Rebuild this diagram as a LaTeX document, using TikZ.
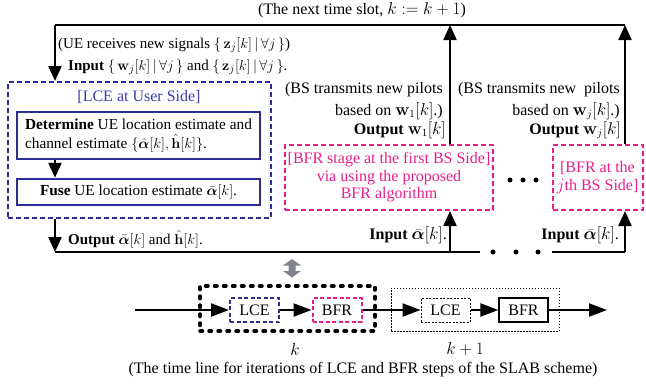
\documentclass[tikz,border=0pt]{standalone}
\usepackage[no-math]{fontspec}
\setmainfont{Liberation Serif}
\usepackage{amsmath,amssymb,bm}
\usetikzlibrary{arrows.meta}
\definecolor{lceblue}{RGB}{45,45,150}
\definecolor{lcetext}{RGB}{60,60,175}
\definecolor{bfrpink}{RGB}{232,30,140}
\definecolor{grayarr}{RGB}{128,132,138}
\begin{document}
\begin{tikzpicture}[x=1pt,y=-1pt,
  font=\fontsize{16}{17.5}\selectfont,
  arr/.style={line width=2.2pt,-{Triangle[length=15pt,width=13pt]}},
  mainline/.style={line width=2.2pt},
  tarr/.style={line width=2.2pt,-{Triangle[length=18pt,width=13pt]}},
  lcebox/.style={draw=lceblue,line width=2pt,dash pattern=on 5pt off 3pt,inner sep=0pt},
  bfrbox/.style={draw=bfrpink,line width=2pt,dash pattern=on 5pt off 3pt,inner sep=0pt,text=bfrpink,align=center},
  solidbox/.style={draw=lceblue,line width=2.5pt,inner sep=0pt,font=\fontsize{15.3}{18.5}\selectfont},
  txt/.style={inner sep=0pt},
  smalltxt/.style={inner sep=0pt,font=\fontsize{15}{17.5}\selectfont},
  dotn/.style={circle,fill=black,inner sep=0pt,minimum size=5pt},
  smallbox/.style={inner sep=0pt,minimum width=49pt,minimum height=24pt}
]
\useasboundingbox (0,0) rectangle (646,386);

% ---- upper diagram ----
\node[lcebox,minimum width=263pt,minimum height=136pt] (lce) at (139.5,150) {};
\node[txt,text=lcetext] (lcetitle) at (139,97) {[LCE at User Side]};
\node[solidbox,minimum width=243pt,minimum height=47pt,align=left] (det) at (138.5,135.5)
  {\textbf{Determine} UE location estimate and\\channel estimate $\{\hat{\bm{\alpha}}[k],\hat{\mathbf{h}}[k]\}$.};
\node[solidbox,minimum width=243pt,minimum height=26pt] (fuse) at (138.5,192)
  {\textbf{Fuse} UE location estimate $\bar{\bm{\alpha}}[k]$.};
\draw[arr] (det.south -| 55,0) -- (fuse.north -| 55,0);

\node[bfrbox,minimum width=208pt,minimum height=65pt] (bfr1) at (389,177.5)
  {[BFR stage at the first BS Side]\\via using the proposed\\BFR algorithm};
\node[bfrbox,minimum width=90pt,minimum height=65pt] (bfr2) at (597.5,177.5)
  {[BFR at the\\$j$th BS Side]};

\coordinate (tl) at (55,25);
\coordinate (o1) at (450,25);
\coordinate (tr) at (625,25);
\coordinate (bl) at (55,252);
\coordinate (b1end) at (480,252);
\coordinate (b2start) at (552,252);
\coordinate (br) at (625,252);

\draw[mainline] (tr) -- (tl);
\draw[arr] (tl) -- (tl |- lce.north);
\draw[arr] (bfr1.north -| o1) -- (o1);
\draw[arr] (bfr2.north -| tr) -- (tr);
\draw[arr] (lce.south -| bl) -- (bl);
\draw[mainline] (bl) -- (b1end);
\draw[mainline] (b2start) -- (br);
\draw[arr] (bl -| o1) -- (bfr1.south -| o1);
\draw[arr] (br) -- (bfr2.south -| br);

\node[dotn] (d1) at (493,252) {};
\node[dotn] (d2) at (516,252) {};
\node[dotn] (d3) at (538,252) {};
\node[dotn] (e1) at (510,180) {};
\node[dotn] (e2) at (523,180) {};
\node[dotn] (e3) at (536,180) {};

\node[txt] (nextslot) at (362,10) {(The next time slot, $k := k+1$)};
\node[smalltxt,anchor=west] (uerecv) at (58,45) {(UE receives new signals $\{\,\mathbf{z}_j[k]\,|\,\forall j\,\}$)};
\node[smalltxt,anchor=west] (inp) at (68,67) {\textbf{Input} $\{\,\mathbf{w}_j[k]\,|\,\forall j\,\}$ and $\{\,\mathbf{z}_j[k]\,|\,\forall j\,\}$.};
\node[smalltxt,anchor=west] (outp) at (68,239) {\textbf{Output} $\bar{\bm{\alpha}}[k]$ and $\hat{\mathbf{h}}[k]$.};

\node[txt,anchor=east] (bs1a) at (443,90) {(BS transmits new pilots};
\node[txt,anchor=east] (bs1b) at (443,111) {based on $\mathbf{w}_1[k]$.)};
\node[txt,anchor=east] (out1) at (446,130) {\textbf{Output} $\mathbf{w}_1[k]$};
\node[txt,anchor=east] (in1) at (447,235) {\textbf{Input} $\bar{\bm{\alpha}}[k]$.};

\node[txt,anchor=east] (bs2a) at (620,90) {(BS transmits new\ \ pilots};
\node[txt,anchor=east] (bs2b) at (620,111) {based on $\mathbf{w}_j[k]$.)};
\node[txt,anchor=east] (out2) at (621,130) {\textbf{Output} $\mathbf{w}_j[k]$};
\node[txt,anchor=east] (in2) at (619,235) {\textbf{Input} $\bar{\bm{\alpha}}[k]$.};

% ---- gray double arrow ----
\fill[grayarr] (292,259) -- (301,265.5) -- (295.5,265.5) -- (295.5,271) -- (301,271)
  -- (292,277.5) -- (283,271) -- (288.5,271) -- (288.5,265.5) -- (283,265.5) -- cycle;

% ---- time line ----
\node[draw,line width=3.5pt,dash pattern=on 2.5pt off 6.5pt,line cap=round,inner sep=0pt,
  minimum width=175pt,minimum height=45pt] (grpk) at (287.5,308.5) {};
\node[draw,line width=1pt,dash pattern=on 1.5pt off 1.5pt,inner sep=0pt,
  minimum width=168pt,minimum height=43pt] (grpk1) at (475,309.5) {};
\node[smallbox,draw=lceblue,line width=2pt,dash pattern=on 4pt off 2.5pt] (tlce1) at (254.5,310) {LCE};
\node[smallbox,draw=bfrpink,line width=2pt,dash pattern=on 4pt off 2.5pt] (tbfr1) at (337,310) {BFR};
\node[smallbox,draw,line width=1pt,dash pattern=on 2pt off 1.5pt] (tlce2) at (445.5,310) {LCE};
\node[smallbox,draw,line width=1.3pt] (tbfr2) at (523.5,310) {BFR};
\coordinate (tstart) at (135,310);
\coordinate (tend) at (607,310);
\draw[tarr] (tstart) -- (tlce1);
\draw[tarr] (tlce1) -- (tbfr1);
\draw[tarr] (tbfr1) -- (tlce2);
\draw[tarr] (tlce2) -- (tbfr2);
\draw[tarr] (tbfr2) -- (tend);

\node[txt] (klab) at (295,349) {$k$};
\node[txt] (k1lab) at (465,349) {$k+1$};
\node[txt] (caption) at (363,370) {(The time line for iterations of LCE and BFR steps of the SLAB scheme)};
\end{tikzpicture}
\end{document}
